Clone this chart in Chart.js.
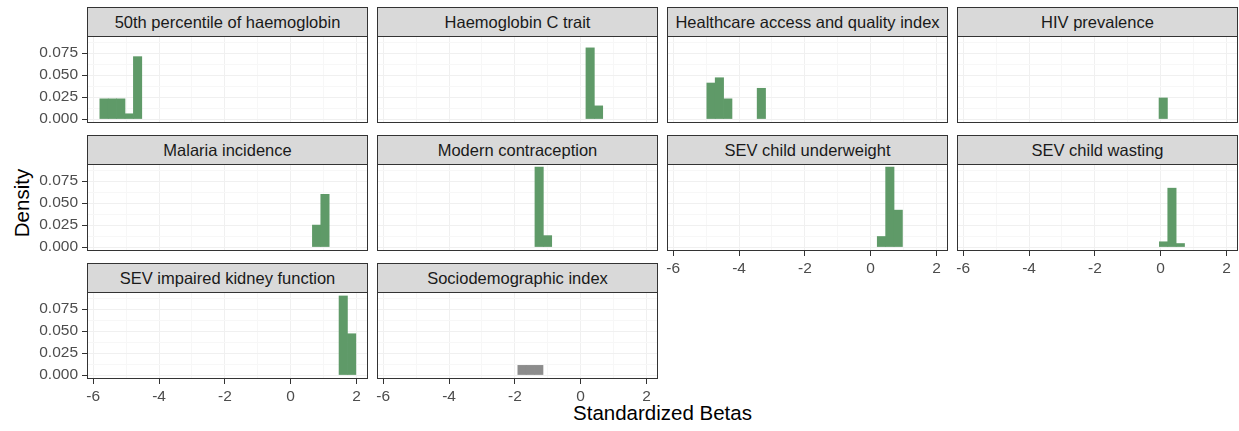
<!DOCTYPE html>
<html>
<head>
<meta charset="utf-8">
<script src="https://cdn.jsdelivr.net/npm/chart.js@4/dist/chart.umd.min.js"></script>
<style>
  body { margin: 0; background: #fff; width: 1239px; height: 431px; position: relative; overflow: hidden;
         font-family: "Liberation Sans", Arial, sans-serif; }
  .strip { position: absolute; box-sizing: border-box; width: 281px; height: 30px; background: #d9d9d9;
           border: 1px solid #333; text-align: center; font-size: 16.5px; line-height: 28px; color: #1a1a1a;
           white-space: nowrap; overflow: hidden; }
  canvas { position: absolute; }
  .axtitle { position: absolute; font-size: 20.5px; color: #000; white-space: nowrap; }
</style>
</head>
<body>
<div class="axtitle" style="left:87px; width:1151px; top:401px; text-align:center;">Standardized Betas</div>
<div class="axtitle" style="left:-28px; width:100px; top:191px; text-align:center; transform:rotate(-90deg);">Density</div>
<script>
// facets, in facet_wrap order
const facetNames = [
  "50th percentile of haemoglobin", "Haemoglobin C trait", "Healthcare access and quality index", "HIV prevalence",
  "Malaria incidence", "Modern contraception", "SEV child underweight", "SEV child wasting",
  "SEV impaired kidney function", "Sociodemographic index"
];
// left edge of first bin in each facet, common bin width
const binStart = [-5.8, 0.16, -4.98, -0.305, 0.66, -1.39, 0.2, -0.04, 1.47, -1.91];
const binWidth = 0.255;
// density per bin (consecutive bins from binStart)
const density = [
  [0.023, 0.023, 0.023, 0.006, 0.071],
  [0.081, 0.015],
  [0.041, 0.047, 0.023, 0, 0, 0, 0.035],
  [0, 0.024, 0],
  [0.025, 0.060],
  [0.091, 0.013],
  [0.012, 0.091, 0.042],
  [0.006, 0.067, 0.004],
  [0.090, 0.047],
  [0.011, 0.011, 0.011]
];
const greyFacets = ["Sociodemographic index"];

const xTicks = [-6, -4, -2, 0, 2];
const xMinor = [-5, -3, -1, 1];
const yTicks = [0, 0.025, 0.05, 0.075];
const yMinor = [0.0125, 0.0375, 0.0625, 0.0875];

// layout
const PX = 87, PW = 281, COLP = 290;
const PT = 36, PH = 87, ROWP = 128;
const M = 20, XAX = 30;
const FONT = '"Liberation Sans", Arial, sans-serif';

const panelBorder = {
  id: 'panelBorder',
  afterDraw(chart) {
    const a = chart.chartArea, c = chart.ctx;
    c.save();
    c.strokeStyle = '#333';
    c.lineWidth = 1;
    c.strokeRect(a.left + 0.5, a.top + 0.5, a.right - a.left - 1, a.bottom - a.top - 1);
    c.restore();
  }
};

function tickList(major, minor) {
  return major.map(v => ({ value: v })).concat(minor.map(v => ({ value: v, minor: true })))
    .sort((a, b) => a.value - b.value);
}
const gridColor = c => (c.tick && c.tick.minor) ? '#f7f7f7' : '#f0f0f0';
const tickColor = c => (c.tick && c.tick.minor) ? 'rgba(0,0,0,0)' : '#333';

facetNames.forEach((name, i) => {
  const col = i % 4, row = Math.floor(i / 4);
  const left = PX + col * COLP, top = PT + row * ROWP;
  const showX = row === 2 || (row === 1 && col >= 2);
  const showY = col === 0;

  const s = document.createElement('div');
  s.className = 'strip';
  s.style.left = left + 'px';
  s.style.top = (top - 29) + 'px';
  s.textContent = name;
  document.body.appendChild(s);

  const cv = document.createElement('canvas');
  const cLeft = showY ? 0 : left - M;
  const cw = (showY ? PX : M) + PW + M;
  const ch = M + PH + (showX ? XAX : M);
  cv.width = cw; cv.height = ch;
  cv.style.left = cLeft + 'px';
  cv.style.top = (top - M) + 'px';
  cv.style.width = cw + 'px'; cv.style.height = ch + 'px';
  document.body.appendChild(cv);

  const fill = greyFacets.includes(name) ? '#8c8c8c' : '#5f9a68';

  new Chart(cv, {
    type: 'bar',
    data: {
      datasets: [{
        // empty bins stay in the grid (for bar width) but are not drawn
        data: density[i].map((d, k) => ({ x: binStart[i] + (k + 0.5) * binWidth, y: d === 0 ? null : d })),
        backgroundColor: fill,
        borderWidth: 0,
        barPercentage: 1,
        categoryPercentage: 1
      }]
    },
    options: {
      responsive: false,
      animation: false,
      layout: { padding: { left: showY ? 0 : M, right: M, top: M, bottom: showX ? 0 : M } },
      plugins: { legend: { display: false }, tooltip: { enabled: false } },
      scales: {
        x: {
          type: 'linear', min: -6.19, max: 2.35, offset: false,
          border: { display: false },
          grid: { offset: false, color: gridColor, tickColor: tickColor, drawTicks: showX, tickLength: 5, lineWidth: 1 },
          afterBuildTicks: sc => { sc.ticks = tickList(xTicks, xMinor); },
          afterFit: sc => { sc.height = showX ? XAX : 0; },
          ticks: {
            display: showX, padding: 3, color: '#4d4d4d', maxRotation: 0, autoSkip: false,
            font: { size: 15.5, family: FONT },
            callback: (v, k, t) => t[k].minor ? '' : String(v)
          }
        },
        y: {
          min: -0.0045, max: 0.0945,
          border: { display: false },
          grid: { color: gridColor, tickColor: tickColor, drawTicks: showY, tickLength: 5, lineWidth: 1 },
          afterBuildTicks: sc => { sc.ticks = tickList(yTicks, yMinor); },
          afterFit: sc => { sc.width = showY ? PX : 0; },
          ticks: {
            display: showY, padding: 4, color: '#4d4d4d', autoSkip: false,
            font: { size: 15.5, family: FONT },
            callback: (v, k, t) => t[k].minor ? '' : v.toFixed(3)
          }
        }
      }
    },
    plugins: [panelBorder]
  });
});
</script>
</body>
</html>
